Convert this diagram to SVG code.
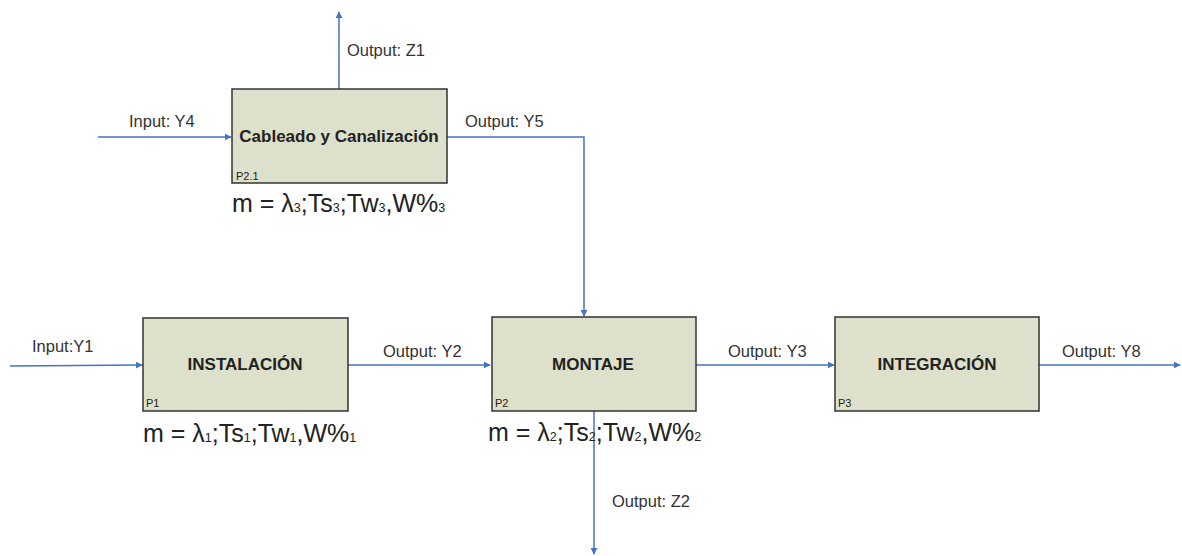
<svg xmlns="http://www.w3.org/2000/svg" width="1182" height="556" viewBox="0 0 1182 556">
<style>
.box{fill:#dde0ca;stroke:#333;stroke-width:1.5}
.t{font-family:"Liberation Sans",Arial,sans-serif;fill:#222}
.lbl{font-size:16.5px;fill:#333}
.name{font-size:17px;font-weight:bold;text-anchor:middle}
.p{font-size:11px}
.m{font-size:25px}
.s{font-size:12.5px}
.c{fill:none;stroke:#4472c4;stroke-width:1.5}
</style>
<defs>
<marker id="a" viewBox="0 0 10 10" refX="9" refY="5" markerWidth="7" markerHeight="7" markerUnits="userSpaceOnUse" orient="auto"><path d="M0,0 L10,5 L0,10 z" fill="#4472c4"/></marker>
</defs>
<rect width="1182" height="556" fill="#fff"/>
<g id="connectors">
<path class="c" d="M339,89 V12" marker-end="url(#a)"/>
<path class="c" d="M98,137 H231" marker-end="url(#a)"/>
<path class="c" d="M447,137 H584 V316" marker-end="url(#a)"/>
<path class="c" d="M10,366 L142,365" marker-end="url(#a)"/>
<path class="c" d="M348,365 H490" marker-end="url(#a)"/>
<path class="c" d="M696,365 H834" marker-end="url(#a)"/>
<path class="c" d="M1039,365 H1180" marker-end="url(#a)"/>
<path class="c" d="M594,411 V554" marker-end="url(#a)"/>
<text class="t lbl" x="347" y="56">Output: Z1</text>
<text class="t lbl" x="129" y="127">Input: Y4</text>
<text class="t lbl" x="465" y="127">Output: Y5</text>
<text class="t lbl" x="32" y="352">Input:Y1</text>
<text class="t lbl" x="383" y="357">Output: Y2</text>
<text class="t lbl" x="728" y="357">Output: Y3</text>
<text class="t lbl" x="1062" y="357">Output: Y8</text>
<text class="t lbl" x="612" y="507">Output: Z2</text>
</g>
<g id="cableado">
<rect class="box" x="232" y="89" width="215" height="94"/>
<text class="t name" x="339" y="142">Cableado y Canalización</text>
<text class="t p" x="236" y="180">P2.1</text>
<text class="t m" x="232" y="212">m = λ<tspan class="s">3</tspan>;Ts<tspan class="s">3</tspan>;Tw<tspan class="s">3</tspan>,W%<tspan class="s">3</tspan></text>
</g>
<g id="instalacion">
<rect class="box" x="143" y="318" width="205" height="93"/>
<text class="t name" x="245" y="370">INSTALACIÓN</text>
<text class="t p" x="146" y="407">P1</text>
<text class="t m" x="143" y="442">m = λ<tspan class="s">1</tspan>;Ts<tspan class="s">1</tspan>;Tw<tspan class="s">1</tspan>,W%<tspan class="s">1</tspan></text>
</g>
<g id="montaje">
<rect class="box" x="492" y="317" width="204" height="94"/>
<text class="t name" x="593" y="370">MONTAJE</text>
<text class="t p" x="495" y="407">P2</text>
<text class="t m" x="488" y="441">m = λ<tspan class="s">2</tspan>;Ts<tspan class="s">2</tspan>;Tw<tspan class="s">2</tspan>,W%<tspan class="s">2</tspan></text>
</g>
<g id="integracion">
<rect class="box" x="835" y="317" width="204" height="94"/>
<text class="t name" x="937" y="370">INTEGRACIÓN</text>
<text class="t p" x="838" y="407">P3</text>
</g>
</svg>
